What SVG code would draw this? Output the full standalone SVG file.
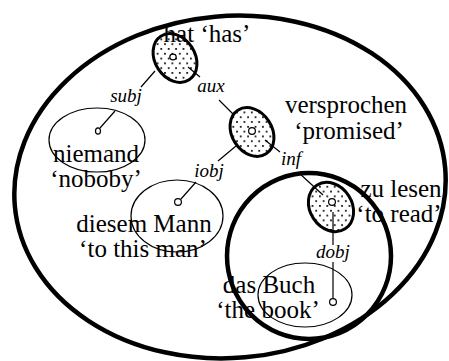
<svg xmlns="http://www.w3.org/2000/svg" width="449" height="361" viewBox="0 0 449 361">
<style>
.region{fill:none;stroke:#000;stroke-width:4.5}
.thin{fill:none;stroke:#000;stroke-width:1.2}
.dotted{fill:url(#dots);stroke:#000;stroke-width:3}
.pt{fill:#fff;stroke:#000;stroke-width:1.2}
.word{font-family:"Liberation Serif","Times New Roman",serif;font-size:25px;fill:#000;text-anchor:middle}
.lab{font-family:"Liberation Serif","Times New Roman",serif;font-size:19px;font-style:italic;fill:#000;text-anchor:middle}
.edge{fill:none;stroke:#000;stroke-width:1.2}
</style>
<defs>
<pattern id="dots" patternUnits="userSpaceOnUse" width="7.4" height="9.6" patternTransform="rotate(33)">
<rect width="7.4" height="9.6" fill="#fff"/>
<rect x="1" y="1" width="1.7" height="1.7" fill="#000"/>
<rect x="4.7" y="5.8" width="1.7" height="1.7" fill="#000"/>
</pattern>
</defs>
<g id="regions">
<ellipse class="region" cx="230" cy="187" rx="216" ry="171" transform="rotate(-5 230 187)"/>
<ellipse class="region" cx="309" cy="256" rx="82" ry="83"/>
</g>
<g id="nodes">
<g id="node-hat">
<ellipse class="dotted" cx="175" cy="58" rx="20" ry="26" transform="rotate(-33 175 58)"/>
<ellipse class="pt" cx="173" cy="57" rx="3.2" ry="2.8"/>
<text class="word" x="207" y="42">hat ‘has’</text>
</g>
<g id="node-versprochen">
<ellipse class="dotted" cx="252" cy="132" rx="20" ry="26" transform="rotate(-33 252 132)"/>
<circle class="pt" cx="252" cy="131" r="3.4"/>
<text class="word" x="346" y="113">versprochen</text>
<text class="word" x="349" y="139">‘promised’</text>
</g>
<g id="node-zulesen">
<ellipse class="dotted" cx="331" cy="207" rx="21" ry="26" transform="rotate(-33 331 207)"/>
<circle class="pt" cx="332" cy="202" r="3.4"/>
<text class="word" x="401" y="197">zu lesen</text>
<text class="word" x="399" y="222">‘to read’</text>
</g>
<g id="node-niemand">
<ellipse class="thin" cx="97" cy="140" rx="48" ry="32"/>
<ellipse class="pt" cx="98" cy="131" rx="2.5" ry="3.2"/>
<text class="word" x="96" y="162">niemand</text>
<text class="word" x="96" y="187">‘noboby’</text>
</g>
<g id="node-diesem">
<ellipse class="thin" cx="177" cy="216" rx="46" ry="36"/>
<circle class="pt" cx="178" cy="202" r="3.4"/>
<text class="word" x="144" y="232">diesem Mann</text>
<text class="word" x="143" y="257">‘to this man’</text>
</g>
<g id="node-buch">
<ellipse class="thin" cx="305" cy="295" rx="47" ry="32"/>
<circle class="pt" cx="333" cy="302" r="3.4"/>
<text class="word" x="269" y="293">das Buch</text>
<text class="word" x="268" y="318">‘the book’</text>
</g>
</g>
<g id="connectors">
<g id="edge-subj">
<path class="edge" d="M155,71 L141,87 M115,111 L100,128"/>
<text class="lab" x="126" y="102">subj</text>
</g>
<g id="edge-aux">
<path class="edge" d="M188,67 L200,77 M219,100 L233,114"/>
<text class="lab" x="211" y="92">aux</text>
</g>
<g id="edge-iobj">
<path class="edge" d="M236,146 L218,161 M196,182 L181,199"/>
<text class="lab" x="209" y="177">iobj</text>
</g>
<g id="edge-inf">
<path class="edge" d="M265,140 L280,152 M299,173 L323,195"/>
<text class="lab" x="291" y="165">inf</text>
</g>
<g id="edge-dobj">
<path class="edge" d="M333,212 L333,245 M333,262 L333,298"/>
<text class="lab" x="333" y="258">dobj</text>
</g>
</g>
</svg>
